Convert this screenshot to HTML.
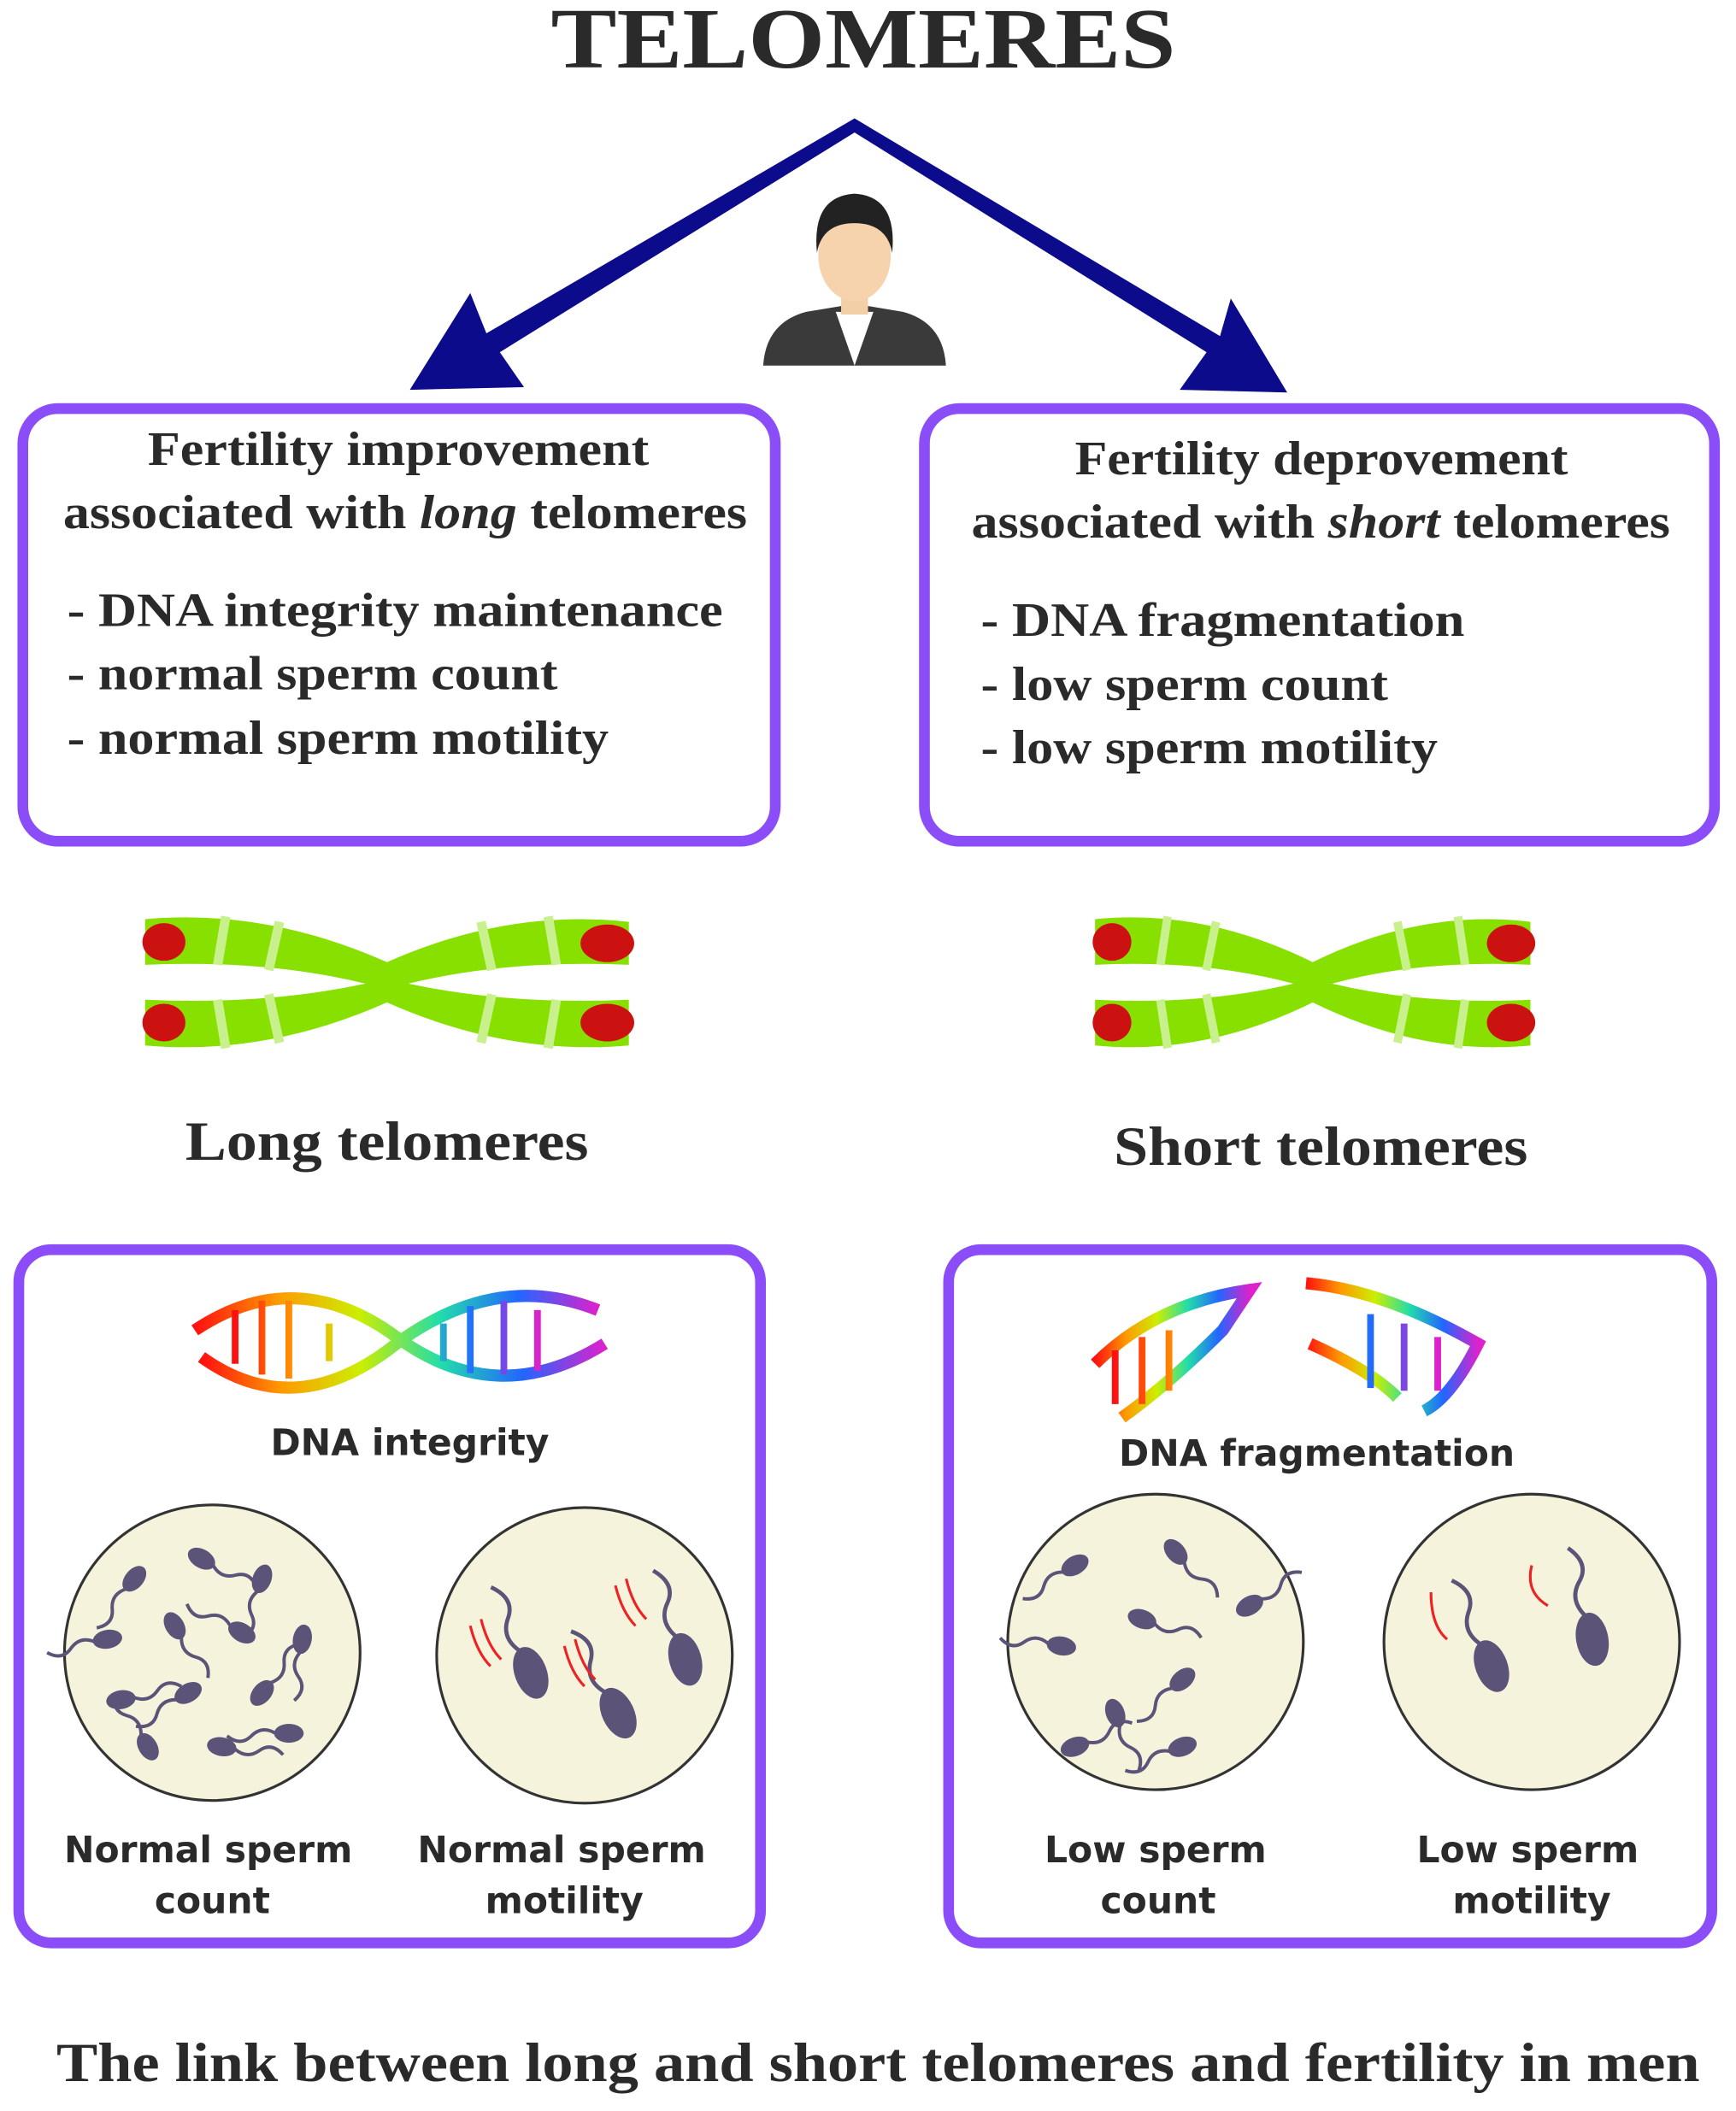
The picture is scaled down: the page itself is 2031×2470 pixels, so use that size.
<!DOCTYPE html>
<html><head><meta charset="utf-8"><style>
html,body{margin:0;padding:0;background:#fff}
svg{display:block}
.serif{font-family:"Liberation Serif",serif;font-weight:bold;fill:#2a2a2a}
.sans{font-family:"DejaVu Sans","Liberation Sans",sans-serif;font-weight:bold;fill:#2a2a2a}
</style></head><body>
<svg width="2031" height="2470" viewBox="0 0 1292 1571" xmlns="http://www.w3.org/2000/svg">
<defs>
<linearGradient id="rb" x1="0" x2="1" y1="0" y2="0">
<stop offset="0" stop-color="#ff1010"/><stop offset="0.2" stop-color="#ff9900"/><stop offset="0.4" stop-color="#ccee00"/><stop offset="0.6" stop-color="#22ddaa"/><stop offset="0.8" stop-color="#2266ff"/><stop offset="1" stop-color="#dd22cc"/>
</linearGradient>
<g id="sp"><ellipse cx="0" cy="0" rx="7" ry="11" fill="#5b5478"/><path d="M0,10 q-6,10 2,18 q8,8 0,18" stroke="#5b5478" stroke-width="2.5" fill="none"/></g>
<g id="spb"><ellipse cx="0" cy="0" rx="12" ry="20" fill="#5b5478"/><path d="M-2,-18 q-10,-14 0,-26 q10,-12 -4,-26" stroke="#5b5478" stroke-width="3" fill="none"/></g>
<g id="chr">
<path d="M0,4 Q90,-4 180,36 Q270,-4 360,6 L360,38 Q270,34 196,52 Q270,68 360,64 L360,98 Q270,106 180,66 Q90,106 0,98 L0,64 Q90,68 164,52 Q90,34 0,38 Z" fill="#88e000"/>
<path d="M60,2 l-6,36 M100,6 l-8,36 M250,6 l8,36 M300,2 l6,36 M60,100 l-6,-36 M100,96 l-8,-36 M250,96 l8,-36 M300,100 l6,-36" stroke="#c8f08c" stroke-width="7"/>
<ellipse cx="14" cy="21" rx="16" ry="14" fill="#cc1111"/><ellipse cx="14" cy="81" rx="16" ry="14" fill="#cc1111"/>
<ellipse cx="344" cy="22" rx="20" ry="14" fill="#cc1111"/><ellipse cx="344" cy="81" rx="20" ry="14" fill="#cc1111"/>
</g>
</defs>
<text x="410" y="50" textLength="465" lengthAdjust="spacingAndGlyphs" class="serif" font-size="64">TELOMERES</text>
<!-- arrows -->
<path d="M636,88 L640,96 L372,262 L390,288 L305,290 L350,218 L362,248 Z" fill="#0b0b8c"/>
<path d="M636,88 L632,96 L898,262 L878,290 L958,292 L916,222 L908,250 Z" fill="#0b0b8c"/>
<!-- person -->
<path d="M568,272 Q570,240 600,232 L636,226 L672,232 Q702,240 704,272 Z" fill="#3a3a3a"/>
<path d="M622,232 L636,272 L650,232 Z" fill="#fff"/>
<rect x="626" y="212" width="20" height="22" fill="#f3cfa8"/>
<ellipse cx="636" cy="190" rx="27" ry="34" fill="#f6d3ac"/>
<path d="M608,188 Q604,146 636,144 Q668,146 664,188 Q660,166 636,166 Q612,166 608,188Z" fill="#222"/>
<!-- top boxes -->
<rect x="17" y="304" width="560" height="322" rx="26" fill="none" stroke="#8b4df8" stroke-width="8"/>
<rect x="688" y="304" width="588" height="322" rx="26" fill="none" stroke="#8b4df8" stroke-width="8"/>
<g class="serif" font-size="36" lengthAdjust="spacingAndGlyphs">
<text x="110" y="346" textLength="373" lengthAdjust="spacingAndGlyphs">Fertility improvement</text>
<text x="47" y="393" textLength="509" lengthAdjust="spacingAndGlyphs">associated with <tspan font-style="italic">long</tspan> telomeres</text>
<text x="50" y="466" textLength="488" lengthAdjust="spacingAndGlyphs">- DNA integrity maintenance</text>
<text x="50" y="513" textLength="365" lengthAdjust="spacingAndGlyphs">- normal sperm count</text>
<text x="50" y="561" textLength="403" lengthAdjust="spacingAndGlyphs">- normal sperm motility</text>
<text x="800" y="353" textLength="367" lengthAdjust="spacingAndGlyphs">Fertility deprovement</text>
<text x="723" y="400" textLength="520" lengthAdjust="spacingAndGlyphs">associated with <tspan font-style="italic">short</tspan> telomeres</text>
<text x="730" y="473" textLength="360" lengthAdjust="spacingAndGlyphs">- DNA fragmentation</text>
<text x="730" y="521" textLength="303" lengthAdjust="spacingAndGlyphs">- low sperm count</text>
<text x="730" y="568" textLength="340" lengthAdjust="spacingAndGlyphs">- low sperm motility</text>
</g>
<use href="#chr" transform="translate(108,680)"/>
<use href="#chr" transform="translate(815,680) scale(0.9,1)"/>
<text x="138" y="863" textLength="300" lengthAdjust="spacingAndGlyphs" class="serif" font-size="41">Long telomeres</text>
<text x="829" y="867" textLength="308" lengthAdjust="spacingAndGlyphs" class="serif" font-size="41">Short telomeres</text>
<!-- bottom boxes -->
<rect x="14" y="930" width="552" height="516" rx="24" fill="none" stroke="#8b4df8" stroke-width="8"/>
<rect x="706" y="930" width="568" height="516" rx="24" fill="none" stroke="#8b4df8" stroke-width="8"/>
<!-- DNA -->
<g fill="none" stroke="url(#rb)" stroke-width="9">
<path d="M145,990 Q220,940 295,995 Q370,1050 450,1000"/>
<path d="M150,1010 Q220,1060 295,1000 Q370,945 445,975"/>
</g>
<g stroke="url(#rb)" stroke-width="5">
<path d="M175,975 v40 M195,968 v55 M215,968 v58 M245,985 v28 M330,985 v28 M350,972 v50 M375,968 v55 M400,975 v45"/>
</g>
<g fill="none" stroke="url(#rb)" stroke-width="9">
<path d="M815,1015 Q860,970 930,960 L910,990 Q870,1030 835,1055"/>
<path d="M972,955 Q1030,960 1100,1000 Q1080,1040 1060,1050 M975,1000 Q1020,1020 1040,1040"/>
</g>
<g stroke="url(#rb)" stroke-width="5"><path d="M830,1005 v40 M850,995 v50 M870,990 v45 M1020,978 v55 M1045,985 v50 M1070,995 v40"/></g>
<text x="305" y="1083" text-anchor="middle" class="sans" font-size="27">DNA integrity</text>
<text x="980" y="1091" text-anchor="middle" class="sans" font-size="27">DNA fragmentation</text>
<!-- circles -->
<g fill="#f6f3dc" stroke="#333" stroke-width="2">
<circle cx="158" cy="1230" r="110"/><circle cx="435" cy="1232" r="110"/>
<circle cx="860" cy="1222" r="110"/><circle cx="1140" cy="1222" r="110"/>
</g>
<g>
<use href="#sp" transform="translate(100,1175) rotate(40)"/><use href="#sp" transform="translate(150,1160) rotate(-60)"/>
<use href="#sp" transform="translate(195,1175) rotate(20)"/><use href="#sp" transform="translate(80,1220) rotate(80)"/>
<use href="#sp" transform="translate(130,1210) rotate(-30)"/><use href="#sp" transform="translate(180,1215) rotate(120)"/>
<use href="#sp" transform="translate(225,1220) rotate(10)"/><use href="#sp" transform="translate(90,1265) rotate(-100)"/>
<use href="#sp" transform="translate(140,1260) rotate(60)"/><use href="#sp" transform="translate(195,1260) rotate(-140)"/>
<use href="#sp" transform="translate(110,1300) rotate(150)"/><use href="#sp" transform="translate(165,1300) rotate(-80)"/>
<use href="#sp" transform="translate(215,1290) rotate(90)"/>
<use href="#spb" transform="translate(395,1245) rotate(-20)"/><use href="#spb" transform="translate(460,1275) rotate(-25)"/>
<use href="#spb" transform="translate(510,1235) rotate(-15)"/>
<use href="#sp" transform="translate(800,1165) rotate(60)"/><use href="#sp" transform="translate(875,1155) rotate(-40)"/>
<use href="#sp" transform="translate(930,1195) rotate(-120)"/><use href="#sp" transform="translate(790,1225) rotate(100)"/>
<use href="#sp" transform="translate(850,1205) rotate(-70)"/><use href="#sp" transform="translate(880,1250) rotate(50)"/>
<use href="#sp" transform="translate(830,1275) rotate(-20)"/><use href="#sp" transform="translate(800,1300) rotate(-110)"/>
<use href="#sp" transform="translate(880,1300) rotate(70)"/>
<use href="#spb" transform="translate(1110,1240) rotate(-20)"/><use href="#spb" transform="translate(1185,1220) rotate(-10)"/>
</g>
<g stroke="#ee2222" stroke-width="2" fill="none">
<path d="M350,1210 q5,20 15,30 M358,1205 q5,20 15,30 M420,1225 q5,20 15,30 M428,1220 q5,20 15,30 M458,1180 q5,20 15,30 M466,1175 q5,20 15,30 M1065,1185 q0,25 12,35 M1140,1165 q-5,20 12,30"/>
</g>
<g class="sans" font-size="27" text-anchor="middle">
<text x="155" y="1386">Normal sperm</text><text x="158" y="1424">count</text>
<text x="418" y="1386">Normal sperm</text><text x="420" y="1424">motility</text>
<text x="860" y="1386">Low sperm</text><text x="862" y="1424">count</text>
<text x="1137" y="1386">Low sperm</text><text x="1140" y="1424">motility</text>
</g>
<text x="42" y="1549" textLength="1223" lengthAdjust="spacingAndGlyphs" class="serif" font-size="41">The link between long and short telomeres and fertility in men</text>
</svg>
</body></html>
